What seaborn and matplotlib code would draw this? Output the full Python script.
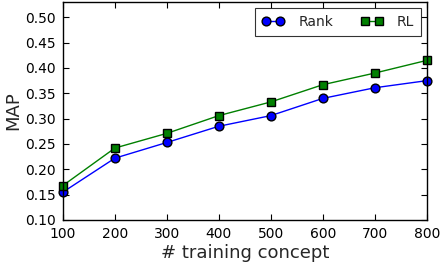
import matplotlib
matplotlib.use("Agg")
import matplotlib.pyplot as plt
import seaborn as sns
import pandas as pd

concepts = [100, 200, 300, 400, 500, 600, 700, 800]
rank_map = [0.155, 0.222, 0.253, 0.285, 0.306, 0.340, 0.361, 0.375]
rl_map = [0.168, 0.242, 0.271, 0.306, 0.333, 0.367, 0.390, 0.415]
series_names = ["Rank", "RL"]
yticks = [0.10, 0.15, 0.20, 0.25, 0.30, 0.35, 0.40, 0.45, 0.50]

df = pd.DataFrame({
    "concept": concepts * 2,
    "MAP": rank_map + rl_map,
    "method": [series_names[0]] * len(concepts) + [series_names[1]] * len(concepts),
})

sns.set_style("ticks")
plt.rcParams["font.family"] = ["DejaVu Sans"]

fig = plt.figure(figsize=(4.4, 2.66), dpi=100)
ax = fig.add_axes([0.143, 0.173, 0.827, 0.819])

sns.lineplot(data=df, x="concept", y="MAP", hue="method", style="method",
             palette={"Rank": "#0000ff", "RL": "#008000"},
             markers={"Rank": "o", "RL": "s"}, dashes=False,
             markersize=6.3, markeredgecolor="black", markeredgewidth=1.0,
             linewidth=1.0, ax=ax)

ax.set_xlim(100, 800)
ax.set_ylim(0.10, 0.53)
ax.set_xticks(concepts)
ax.set_yticks(yticks)
ax.set_yticklabels([f"{v:.2f}" for v in yticks])
ax.tick_params(direction="in", top=True, right=True, length=4, width=0.8,
               labelsize=10, colors="black", pad=5)
for sp in ax.spines.values():
    sp.set_visible(True)
    sp.set_color("black")
    sp.set_linewidth(1.0)
ax.set_xlabel("# training concept", fontsize=13, labelpad=2)
ax.set_ylabel("MAP", fontsize=13, labelpad=2)

for line in ax.lines:
    line.set_clip_on(False)

leg = ax.legend(loc="upper right", ncol=2, fontsize=10, frameon=True,
                fancybox=False, edgecolor="black", numpoints=2,
                handlelength=1.6, handletextpad=1.0, borderaxespad=0.4,
                columnspacing=2.0, borderpad=0.5)
leg.get_frame().set_linewidth(0.8)
for h in leg.legend_handles:
    h.set_markeredgecolor("black")

fig.savefig("out.png", dpi=100)
